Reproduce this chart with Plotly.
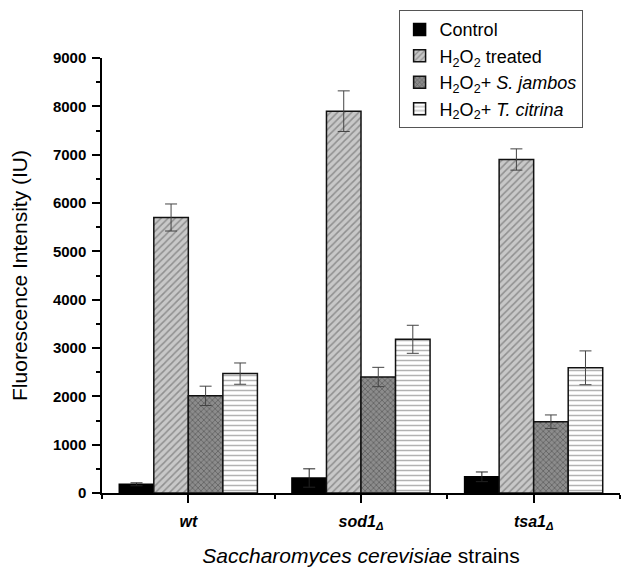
import plotly.graph_objects as go

strains = ["<b><i>wt</i></b>", "<b><i>sod1<sub>Δ</sub></i></b>", "<b><i>tsa1<sub>Δ</sub></i></b>"]
xpos = [0, 1, 2]
yticks = list(range(0, 9001, 1000))
yticklabels = ["<b>%d</b>" % v for v in yticks]

series_names = [
    "Control",
    "H<sub>2</sub>O<sub>2</sub> treated",
    "H<sub>2</sub>O<sub>2</sub>+ <i>S. jambos</i>",
    "H<sub>2</sub>O<sub>2</sub>+ <i>T. citrina</i>",
]
control = [180, 310, 335]
control_err = [30, 190, 100]
h2o2 = [5700, 7900, 6900]
h2o2_err = [280, 420, 220]
jambos = [2010, 2400, 1475]
jambos_err = [200, 200, 140]
citrina = [2470, 3180, 2590]
citrina_err = [220, 290, 350]

values = [control, h2o2, jambos, citrina]
errors = [control_err, h2o2_err, jambos_err, citrina_err]
err_colors = ["#222222", "#444444", "#444444", "#444444"]

markers = [
    dict(color="black", line=dict(color="black", width=1.5)),
    dict(color="#c4c4c4", line=dict(color="#111", width=1.5),
         pattern=dict(shape="/", bgcolor="#c8c8c8", fgcolor="#555555", size=5, solidity=0.3)),
    dict(color="#8a8a8a", line=dict(color="#111", width=1.5),
         pattern=dict(shape="x", bgcolor="#8c8c8c", fgcolor="#333333", size=4, solidity=0.35)),
    dict(color="white", line=dict(color="#111", width=1.5),
         pattern=dict(shape="-", bgcolor="white", fgcolor="#666666", size=5, solidity=0.3)),
]

fig = go.Figure()
for name, v, e, m, ec in zip(series_names, values, errors, markers, err_colors):
    fig.add_trace(go.Bar(
        x=xpos, y=v, name=name, marker=m,
        error_y=dict(type="data", array=e, color=ec, thickness=1, width=6),
    ))

fig.update_layout(
    width=630, height=559,
    barmode="group", bargap=0.2, bargroupgap=0,
    plot_bgcolor="white", paper_bgcolor="white",
    margin=dict(l=94, r=18, t=50, b=74, autoexpand=False),
    font=dict(family="Liberation Sans, Arial, sans-serif", color="black"),
    legend=dict(
        xref="container", yref="container",
        x=0.62, y=0.996, xanchor="left", yanchor="top",
        bordercolor="#555", borderwidth=1, bgcolor="white",
        font=dict(size=18), tracegroupgap=0,
    ),
    xaxis=dict(
        range=[-0.5, 2.5], tickvals=xpos, ticktext=strains,
        showline=True, linecolor="black", linewidth=1.5,
        ticks="outside", ticklen=8, tickcolor="black", tickwidth=1.5,
        tickfont=dict(size=16), showgrid=False, zeroline=False,
        ticklabelstandoff=5,
        minor=dict(tickvals=[-0.5, 0.5, 1.5, 2.5], ticks="outside", ticklen=4,
                   tickcolor="black", tickwidth=1.5),
        title=dict(text="<i>Saccharomyces cerevisiae</i> strains", font=dict(size=21), standoff=24),
    ),
    yaxis=dict(
        range=[0, 9000], tickvals=yticks, ticktext=yticklabels,
        showline=True, linecolor="black", linewidth=1.5,
        ticks="outside", ticklen=8, tickcolor="black", tickwidth=1.5,
        tickfont=dict(size=15), showgrid=False, zeroline=False,
        ticklabelstandoff=3,
        minor=dict(dtick=500, ticks="outside", ticklen=4, tickcolor="black", tickwidth=1.5),
        title=dict(text="Fluorescence Intensity (IU)", font=dict(size=21), standoff=20),
    ),
)

fig.write_html("out.html")
